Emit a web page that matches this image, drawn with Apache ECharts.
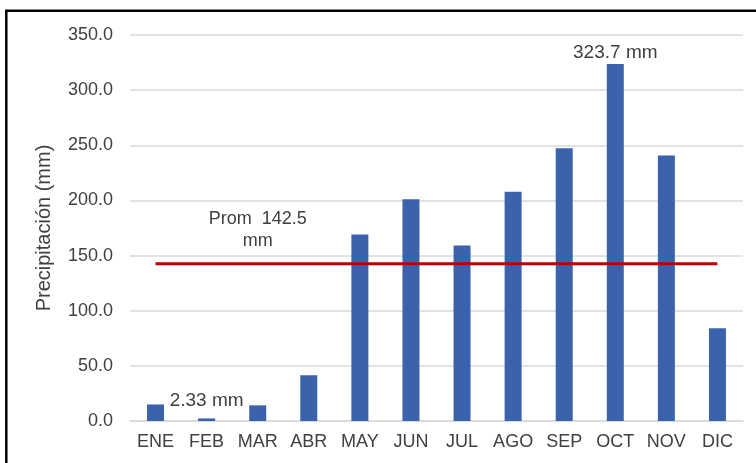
<!DOCTYPE html>
<html>
<head>
<meta charset="utf-8">
<script src="https://cdn.jsdelivr.net/npm/echarts@6/dist/echarts.min.js"></script>
<style>
html,body{margin:0;padding:0;background:#fff;}
#c{width:756px;height:463px;}
</style>
</head>
<body>
<div id="c"></div>
<script>
var months = ['ENE','FEB','MAR','ABR','MAY','JUN','JUL','AGO','SEP','OCT','NOV','DIC'];
var precip = [15.0, 2.33, 14.2, 41.5, 169.1, 201.0, 159.2, 207.8, 247.2, 323.7, 240.8, 84.1];
var promedio = 142.5;
var yTicks = [0, 50, 100, 150, 200, 250, 300, 350];

var FONT = 'Liberation Sans, Arial, sans-serif';
var chart = echarts.init(document.getElementById('c'), null, {renderer:'canvas'});

var barData = precip.map(function(v, i){
  var item = {value: v};
  if (i === 1) {
    item.label = {show:true, position:'top', distance:8, formatter: v + ' mm'};
  } else if (i === 9) {
    item.label = {show:true, position:'top', distance:2, formatter: v + ' mm'};
  }
  return item;
});
var lineData = months.map(function(m, i){
  var item = {value: promedio};
  if (i === 2) {
    item.label = {show:true, position:'top', distance:12, align:'center',
      formatter: 'Prom  ' + promedio + '\nmm', lineHeight:22};
  }
  return item;
});

chart.setOption({
  animation:false,
  backgroundColor:'#ffffff',
  textStyle:{fontFamily:FONT},
  grid:{left:130, right:13, top:35, bottom:42},
  xAxis:{
    type:'category', data:months,
    axisLine:{show:true, lineStyle:{color:'#d9d9d9', width:1.5}},
    axisTick:{show:false},
    axisLabel:{color:'#404040', fontSize:18, fontFamily:FONT, margin:12, interval:0, hideOverlap:false}
  },
  yAxis:{
    type:'value', min:yTicks[0], max:yTicks[yTicks.length-1], interval:50,
    name:'Precipitación (mm)', nameLocation:'middle', nameGap:76,
    nameTextStyle:{color:'#404040', fontSize:20, fontFamily:FONT},
    axisLine:{show:false}, axisTick:{show:false},
    axisLabel:{color:'#404040', fontSize:18, fontFamily:FONT, margin:17,
      formatter:function(v){return v.toFixed(1);}},
    splitLine:{lineStyle:{color:'#d9d9d9', width:1.5}}
  },
  series:[
    {type:'bar', data:barData, barWidth:17,
     itemStyle:{color:'#3a63ab'},
     label:{show:false, color:'#404040', fontSize:19, fontFamily:FONT}},
    {type:'line', data:lineData, symbol:'circle', symbolSize:0.1, showSymbol:true, z:5,
     itemStyle:{color:'#c00000'},
     lineStyle:{color:'#c00000', width:3},
     label:{show:false, color:'#404040', fontSize:18, fontFamily:FONT}}
  ],
  graphic:[
    {type:'rect', shape:{x:6.3, y:10.7, width:900, height:600}, silent:true, z:100,
     style:{fill:'none', stroke:'#000', lineWidth:2.5}}
  ]
});
</script>
</body>
</html>
